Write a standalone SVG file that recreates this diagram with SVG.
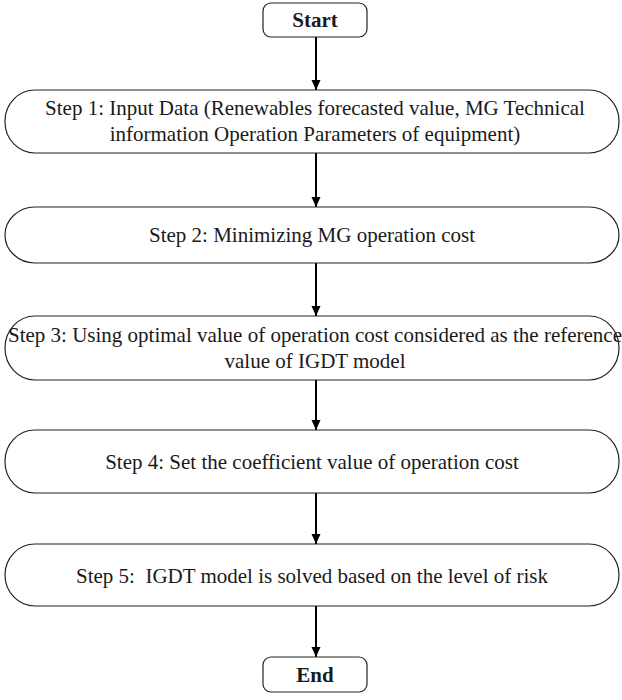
<svg xmlns="http://www.w3.org/2000/svg" width="622" height="700" viewBox="0 0 622 700">
  <defs>
    <style>
      .term { fill: #ffffff; stroke: #222222; stroke-width: 1.2; }
      .step { fill: #ffffff; stroke: #222222; stroke-width: 1.2; }
      text { font-family: 'Liberation Serif', 'DejaVu Serif', serif; font-size: 21px; fill: #1a1a1a; text-anchor: middle; }
      .bold { font-weight: bold; }
      .conn { stroke: #000000; stroke-width: 2; fill: none; marker-end: url(#arrow); }
    </style>
    <marker id="arrow" markerUnits="userSpaceOnUse" markerWidth="10" markerHeight="10" refX="10" refY="4.5" orient="auto">
      <path d="M0,0 L10,4.5 L0,9 z" fill="#000000"/>
    </marker>
  </defs>
  <rect width="622" height="700" fill="#ffffff"/>

  <g id="connectors">
    <line class="conn" x1="316" y1="37" x2="316" y2="90"/>
    <line class="conn" x1="316" y1="153" x2="316" y2="207"/>
    <line class="conn" x1="316" y1="263" x2="316" y2="316"/>
    <line class="conn" x1="316" y1="380" x2="316" y2="430"/>
    <line class="conn" x1="316" y1="493" x2="316" y2="544"/>
    <line class="conn" x1="316" y1="606" x2="316" y2="657"/>
  </g>

  <g id="start">
    <rect class="term" x="263" y="3" width="104" height="34" rx="8" ry="8"/>
    <text class="bold" x="315" y="27" font-family="Liberation Serif, serif">Start</text>
  </g>

  <g id="step1">
    <rect class="step" x="5" y="90" width="614" height="63" rx="30" ry="31"/>
    <text x="315" y="115" font-family="Liberation Serif, serif">Step 1: Input Data (Renewables forecasted value, MG Technical</text>
    <text x="315" y="141" font-family="Liberation Serif, serif">information Operation Parameters of equipment)</text>
  </g>

  <g id="step2">
    <rect class="step" x="5" y="207" width="614" height="56" rx="30" ry="28"/>
    <text x="312" y="242" font-family="Liberation Serif, serif">Step 2: Minimizing MG operation cost</text>
  </g>

  <g id="step3">
    <rect class="step" x="5" y="316" width="614" height="64" rx="30" ry="32"/>
    <text x="315" y="342" font-family="Liberation Serif, serif">Step 3: Using optimal value of operation cost considered as the reference</text>
    <text x="315" y="368" font-family="Liberation Serif, serif">value of IGDT model</text>
  </g>

  <g id="step4">
    <rect class="step" x="5" y="430" width="614" height="63" rx="30" ry="31"/>
    <text x="312" y="469" font-family="Liberation Serif, serif">Step 4: Set the coefficient value of operation cost</text>
  </g>

  <g id="step5">
    <rect class="step" x="5" y="544" width="614" height="62" rx="30" ry="31"/>
    <text x="312" y="583" font-family="Liberation Serif, serif" xml:space="preserve">Step 5:  IGDT model is solved based on the level of risk</text>
  </g>

  <g id="end">
    <rect class="term" x="263" y="657" width="104" height="35" rx="8" ry="8"/>
    <text class="bold" x="315" y="682" font-family="Liberation Serif, serif">End</text>
  </g>
</svg>
